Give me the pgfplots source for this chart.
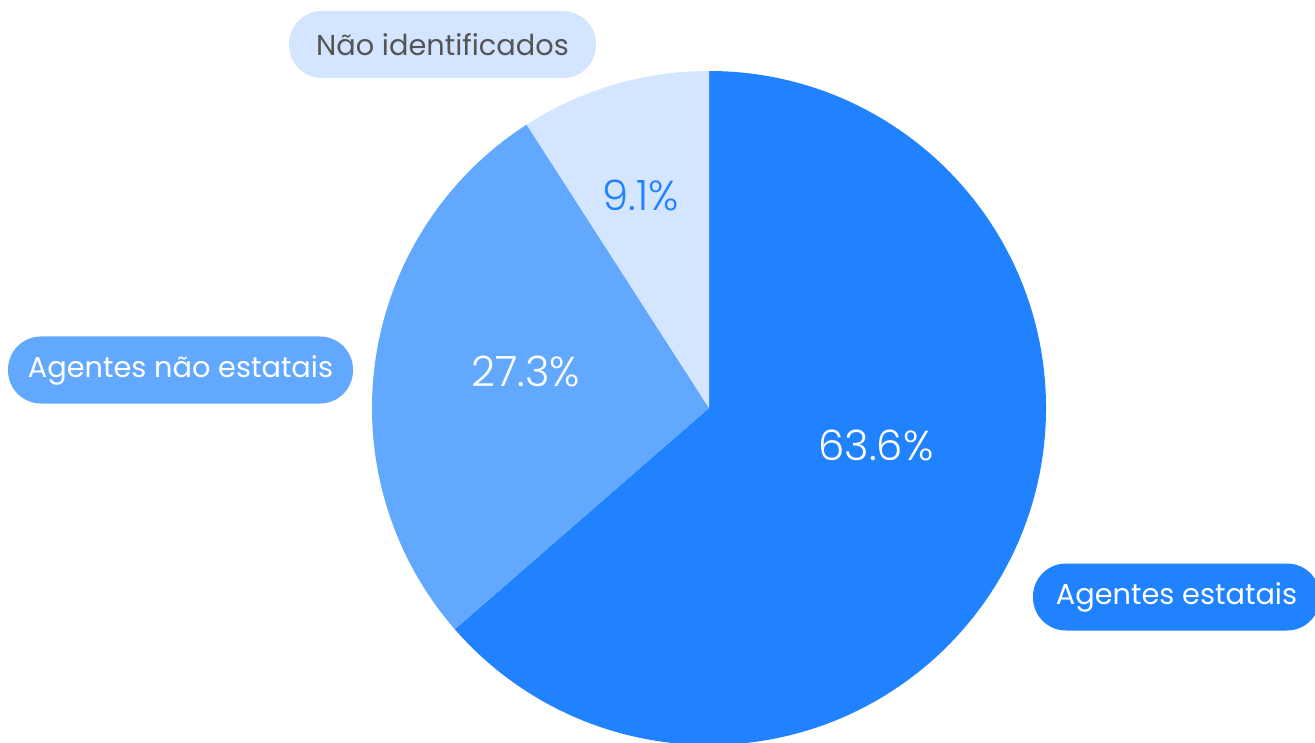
\documentclass[border=0pt]{standalone}
\usepackage{pgfplots}
\pgfplotsset{compat=1.18}
\usepackage{pgfplotstable}
\usepackage{fontspec}
\setmainfont{Poppins}
\newfontfamily\poplight{Poppins}[UprightFont={* Light}]
\definecolor{cA}{HTML}{2082FF}
\definecolor{cB}{HTML}{62A8FF}
\definecolor{cC}{HTML}{D3E5FF}
\definecolor{txtgray}{HTML}{555555}
\pgfplotstableread{
value
63.6
27.3
9.1
}\piedata
\begin{document}
\begin{tikzpicture}
\pgfplotstablegetelem{0}{value}\of\piedata \let\va\pgfplotsretval
\pgfplotstablegetelem{1}{value}\of\piedata \let\vb\pgfplotsretval
\pgfplotstablegetelem{2}{value}\of\piedata \let\vc\pgfplotsretval
\pgfmathsetmacro{\aA}{90}
\pgfmathsetmacro{\aB}{90-3.6*\va}
\pgfmathsetmacro{\aC}{\aB-3.6*\vb}
\pgfmathsetmacro{\aD}{\aC-3.6*\vc}
\begin{axis}[
  scale only axis, width=1315bp, height=742bp,
  xmin=0, xmax=1315, ymin=0, ymax=742,
  axis lines=none, clip=true,
]
\fill[cA] (axis cs:709,334) -- ++(\aA:337bp) arc[start angle=\aA, end angle=\aB, radius=337bp] -- cycle;
\fill[cB] (axis cs:709,334) -- ++(\aB:337bp) arc[start angle=\aB, end angle=\aC, radius=337bp] -- cycle;
\fill[cC] (axis cs:709,334) -- ++(\aC:337bp) arc[start angle=\aC, end angle=\aD, radius=337bp] -- cycle;
\node[text=white, font=\poplight\fontsize{41.8bp}{44bp}\selectfont] at (axis cs:876,297) {\va\%};
\node[text=white, font=\poplight\fontsize{41.8bp}{44bp}\selectfont] at (axis cs:526,371) {\vb\%};
\node[text=cA, font=\poplight\fontsize{41.8bp}{44bp}\selectfont] at (axis cs:641,547) {\vc\%};
\node[fill=cC, text=txtgray, rounded corners=33bp, minimum height=67bp, minimum width=307bp, inner sep=0pt, font=\fontsize{28.8bp}{30bp}\selectfont] at (axis cs:442.5,697.5) {Não identificados};
\node[fill=cB, text=white, rounded corners=33bp, minimum height=67bp, minimum width=345bp, inner sep=0pt, font=\fontsize{28.8bp}{30bp}\selectfont] at (axis cs:180.5,372) {Agentes não estatais};
\node[fill=cA, text=white, rounded corners=33bp, minimum height=67bp, minimum width=287bp, inner sep=0pt, font=\fontsize{28.8bp}{30bp}\selectfont] at (axis cs:1176.5,145) {Agentes estatais};
\end{axis}
\pgfresetboundingbox
\useasboundingbox (current axis.south west) rectangle (current axis.north east);
\end{tikzpicture}
\end{document}
